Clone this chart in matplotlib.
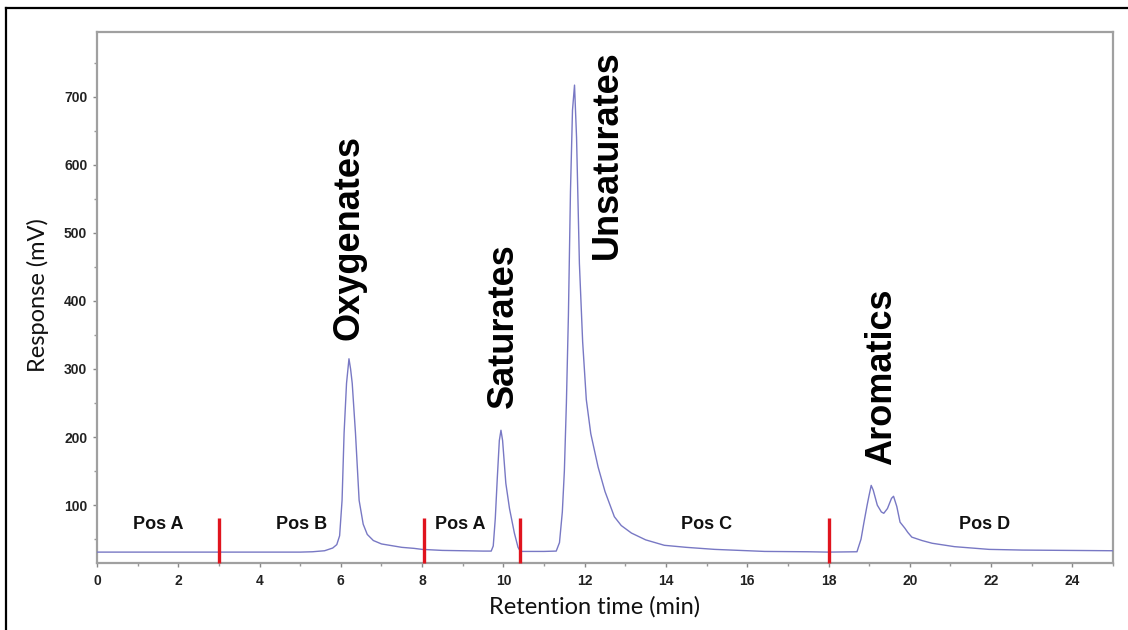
import matplotlib
matplotlib.use("Agg")
import matplotlib.pyplot as plt
from matplotlib.lines import Line2D
from matplotlib.ticker import MultipleLocator

# Chromatogram trace: retention time (min) vs detector response (mV)
time_min = [
    0.0, 5.0, 5.3, 5.6, 5.8, 5.9, 5.97, 6.03, 6.08, 6.14, 6.2, 6.24, 6.28,
    6.36, 6.45, 6.55, 6.65, 6.8, 7.0, 7.3, 7.5, 7.8, 8.0, 8.5, 9.0, 9.5,
    9.7, 9.75, 9.8, 9.85, 9.9, 9.94, 9.98, 10.06, 10.15, 10.27, 10.36, 10.42,
    11.0, 11.3, 11.38, 11.45, 11.5, 11.55, 11.6, 11.65, 11.7, 11.75, 11.8,
    11.87, 11.95, 12.04, 12.15, 12.33, 12.5, 12.73, 12.9, 13.15, 13.5, 13.96,
    14.5, 15.2, 16.43, 17.5, 18.0, 18.7, 18.8, 18.87, 18.95, 18.99, 19.05,
    19.1, 19.2, 19.3, 19.36, 19.45, 19.55, 19.6, 19.68, 19.76, 19.88, 19.95,
    20.05, 20.3, 20.55, 21.1, 21.95, 22.77, 25.0,
]
response_mv = [
    31, 31, 31.5, 33, 37, 42, 55, 107, 206, 279, 315, 300, 279,
    206, 107, 72, 57, 48, 43, 40, 38, 36.5, 35, 33.5, 33, 32.5,
    32.5, 40, 80, 140, 195, 210, 195, 132, 95, 59, 38, 32,
    32, 32.5, 45, 90, 150, 250, 380, 560, 680, 717, 640,
    455, 340, 255, 205, 156, 120, 83, 70, 59, 49, 41,
    38, 35, 32, 31.5, 31, 31.5, 50, 74, 100, 112, 129,
    122, 100, 90, 88, 95, 110, 113, 98, 75, 66, 60,
    53, 48, 44, 39, 35, 34, 33,
]

# Valve switching times and the position each interval belongs to
switch_times = [3.0, 8.05, 10.4, 18.0]
switch_top = 81
pos_names = ["Pos A", "Pos B", "Pos A", "Pos C", "Pos D"]
pos_times = [1.5, 5.03, 8.93, 15.0, 21.85]
pos_level = 71

# Compound group names placed above their peaks
group_names = ["Oxygenates", "Saturates", "Unsaturates", "Aromatics"]
group_times = [6.19, 10.0, 12.55, 19.3]
group_levels = [342, 242, 462, 159]

x_ticks = list(range(0, 25, 2))
y_ticks = list(range(100, 800, 100))

fig = plt.figure(figsize=(11.28, 6.3), dpi=100)
ax = fig.add_axes([97 / 1128, 1 - 563 / 630, (1113 - 97) / 1128, (563 - 32) / 630])

ax.plot(time_min, response_mv, color="#7878c4", lw=1.0, zorder=3)

for t in switch_times:
    ax.plot([t, t], [15, switch_top], color="#e0141e", lw=2.4,
            solid_capstyle="butt", zorder=4, clip_on=False)

for name, t in zip(pos_names, pos_times):
    ax.text(t, pos_level, name, ha="center", va="center",
            fontsize=13, fontweight="bold", family="Liberation Sans",
            color="#111111")

for name, t, lvl in zip(group_names, group_times, group_levels):
    ax.text(t, lvl, name, rotation=90, ha="center", va="bottom",
            fontsize=26, fontweight="bold", family="Liberation Sans",
            color="#000000")

ax.set_xlim(0, 25)
ax.set_ylim(15, 795)
ax.set_xticks(x_ticks)
ax.set_yticks(y_ticks)
ax.yaxis.set_minor_locator(MultipleLocator(50))
ax.xaxis.set_minor_locator(MultipleLocator(1))

for lbl in ax.get_xticklabels() + ax.get_yticklabels():
    lbl.set_family("Liberation Sans")
    lbl.set_fontweight("bold")
    lbl.set_fontsize(10)
    lbl.set_color("#222222")

ax.tick_params(axis="both", which="major", length=3, width=1, color="#888888")
ax.tick_params(axis="both", which="minor", length=2, width=1, color="#999999")
ax.tick_params(axis="x", which="major", pad=5)
ax.tick_params(axis="y", which="major", pad=4)

for side in ["top", "right", "left", "bottom"]:
    ax.spines[side].set_color("#a0a0a0")
    ax.spines[side].set_linewidth(1.6)

fig.text(38 / 1128, 1 - 295 / 630, "Response (mV)", rotation=90,
         ha="center", va="center", fontsize=17, family="Lato", color="#111111")
fig.text(595 / 1128, 1 - 607 / 630, "Retention time (min)",
         ha="center", va="center", fontsize=17, family="Lato", color="#111111")

# Outer frame (left and top edges)
fig.add_artist(Line2D([6 / 1128, 6 / 1128], [0, 1 - 8 / 630],
                      transform=fig.transFigure, color="black", lw=1.6))
fig.add_artist(Line2D([6 / 1128, 1], [1 - 8 / 630, 1 - 8 / 630],
                      transform=fig.transFigure, color="black", lw=1.6))

fig.savefig("out.png", dpi=100, facecolor="white")
